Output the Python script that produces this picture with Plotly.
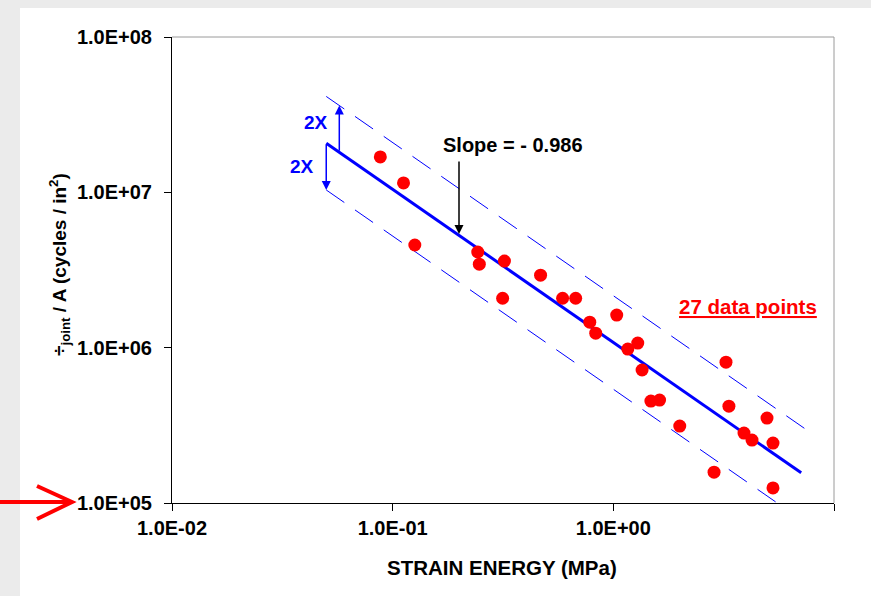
import numpy as np
import plotly.graph_objects as go

# Measured joint life per unit area vs. strain energy
strain_energy = [0.0879, 0.112, 0.126, 0.243, 0.247, 0.321, 0.315, 0.468, 0.589,
                 0.675, 0.782, 0.832, 1.036, 1.163, 1.29, 1.35, 1.48, 1.62, 2.0,
                 2.86, 3.24, 3.34, 3.91, 4.25, 4.97, 5.29, 5.29]
cycles_per_area = [1.69e7, 1.15e7, 4.58e6, 4.13e6, 3.45e6, 3.61e6, 2.08e6, 2.93e6, 2.08e6,
                   2.08e6, 1.46e6, 1.24e6, 1.62e6, 9.8e5, 1.07e6, 7.18e5, 4.53e5, 4.6e5, 3.13e5,
                   1.58e5, 8.07e5, 4.2e5, 2.82e5, 2.54e5, 3.52e5, 2.43e5, 1.25e5]

# Power-law fit and factor-of-two scatter band
fit_slope = -0.986
fit_at_unity = 1.08e6
fit_x = [0.05, 7.1]
band_x = [0.05, 7.6]
band_factor = 2.0

x_tick_vals = [0.01, 0.1, 1, 10]
x_tick_text = ["1.0E-02", "1.0E-01", "1.0E+00", "1.0E+01"]
y_tick_vals = [1e5, 1e6, 1e7, 1e8]
y_tick_text = ["1.0E+05", "1.0E+06", "1.0E+07", "1.0E+08"]

W, H = 871, 596
ML, MR, MT, MB = 172, 37, 37, 93
PW, PH = W - ML - MR, H - MT - MB


def px(x):
    return (x - ML) / PW


def py(y):
    return (H - MB - y) / PH


def fit(x):
    return fit_at_unity * np.power(np.asarray(x, dtype=float), fit_slope)


def bold(labels):
    return [f"<b>{t}</b>" for t in labels]


FONT = "Liberation Sans, Arial, sans-serif"
BLUE = "#0000ff"
RED = "#ff0000"

fig = go.Figure()

bx = np.array(band_x)
fig.add_trace(go.Scatter(x=bx, y=fit(bx) * band_factor, mode="lines",
                         line=dict(color=BLUE, width=1, dash="22px,13px"),
                         hoverinfo="skip", showlegend=False))
fig.add_trace(go.Scatter(x=bx, y=fit(bx) / band_factor, mode="lines",
                         line=dict(color=BLUE, width=1, dash="22px,13px"),
                         hoverinfo="skip", showlegend=False))
fx = np.array(fit_x)
fig.add_trace(go.Scatter(x=fx, y=fit(fx), mode="lines",
                         line=dict(color=BLUE, width=3),
                         hoverinfo="skip", showlegend=False))
fig.add_trace(go.Scatter(x=strain_energy, y=cycles_per_area, mode="markers",
                         marker=dict(color=RED, size=13, line=dict(width=0)),
                         showlegend=False))

shapes = [
    # white panel on the grey page
    dict(type="rect", xref="paper", yref="paper", x0=px(20), x1=px(W + 5),
         y0=py(H + 5), y1=py(8), fillcolor="white", line=dict(width=0), layer="below"),
    # top and right frame of the plot area
    dict(type="line", xref="paper", yref="paper", x0=0, x1=1, y0=1, y1=1,
         line=dict(color="#9a9a9a", width=1)),
    dict(type="line", xref="paper", yref="paper", x0=1, x1=1, y0=0, y1=1,
         line=dict(color="#9a9a9a", width=1)),
    # red pointer at the 1.0E+05 level
    dict(type="line", xref="paper", yref="paper", x0=px(0), x1=px(70),
         y0=py(502), y1=py(502), line=dict(color=RED, width=4)),
    dict(type="path", xref="paper", yref="paper",
         path=f"M {px(37)},{py(486)} L {px(72)},{py(502)} L {px(37)},{py(519)}",
         line=dict(color=RED, width=4)),
]


def label(xp, yp, text, size, color, angle=0):
    return dict(x=px(xp), y=py(yp), xref="paper", yref="paper", text=text,
                xanchor="center", yanchor="middle", showarrow=False, textangle=angle,
                font=dict(family=FONT, size=size, color=color))


lx_up = 0.0573
lx_dn = 0.05
annotations = [
    # factor-of-two arrows
    dict(x=np.log10(lx_up), y=np.log10(fit(lx_up) * band_factor),
         ax=np.log10(lx_up), ay=np.log10(fit(lx_up)), xref="x", yref="y",
         axref="x", ayref="y", showarrow=True, arrowhead=2, arrowsize=1.2,
         arrowwidth=1.5, arrowcolor=BLUE, text=""),
    dict(x=np.log10(lx_dn), y=np.log10(fit(lx_dn) / band_factor),
         ax=np.log10(lx_dn), ay=np.log10(fit(lx_dn)), xref="x", yref="y",
         axref="x", ayref="y", showarrow=True, arrowhead=2, arrowsize=1.2,
         arrowwidth=1.5, arrowcolor=BLUE, text=""),
    label(316, 122, "<b>2X</b>", 19, BLUE),
    label(302, 166, "<b>2X</b>", 19, BLUE),
    # slope callout
    label(513, 145, "<b>Slope = - 0.986</b>", 20, "black"),
    dict(x=px(459), y=py(234), ax=0, ay=-74, xref="paper", yref="paper",
         axref="pixel", ayref="pixel", showarrow=True, arrowhead=2, arrowsize=1.2,
         arrowwidth=1.5, arrowcolor="black", text=""),
    # point count
    label(748, 306, "<b><u>27 data points</u></b>", 20.5, RED),
    # axis titles
    label(502, 567, "<b>STRAIN ENERGY (MPa)</b>", 20.5, "black"),
    label(59, 265, "<b>÷<sub>joint</sub> / A (cycles / in<sup>2</sup>)</b>", 19, "black", -90),
]

fig.update_layout(
    width=W, height=H,
    margin=dict(l=ML, r=MR, t=MT, b=MB, pad=0, autoexpand=False),
    paper_bgcolor="#ebebeb",
    plot_bgcolor="white",
    shapes=shapes,
    annotations=annotations,
    showlegend=False,
)
fig.update_xaxes(type="log", range=[-2, 1], tickvals=x_tick_vals, ticktext=bold(x_tick_text),
                 showgrid=False, zeroline=False, showline=True, linecolor="black", linewidth=1,
                 ticks="outside", ticklen=7, tickcolor="black", automargin=False,
                 tickfont=dict(family=FONT, size=20, color="black"))
fig.update_yaxes(type="log", range=[5, 8], tickvals=y_tick_vals, ticktext=bold(y_tick_text),
                 showgrid=False, zeroline=False, showline=True, linecolor="black", linewidth=1,
                 ticks="outside", ticklen=7, tickcolor="black", automargin=False,
                 ticklabelstandoff=8,
                 tickfont=dict(family=FONT, size=20, color="black"))

fig.write_html("out.html")
